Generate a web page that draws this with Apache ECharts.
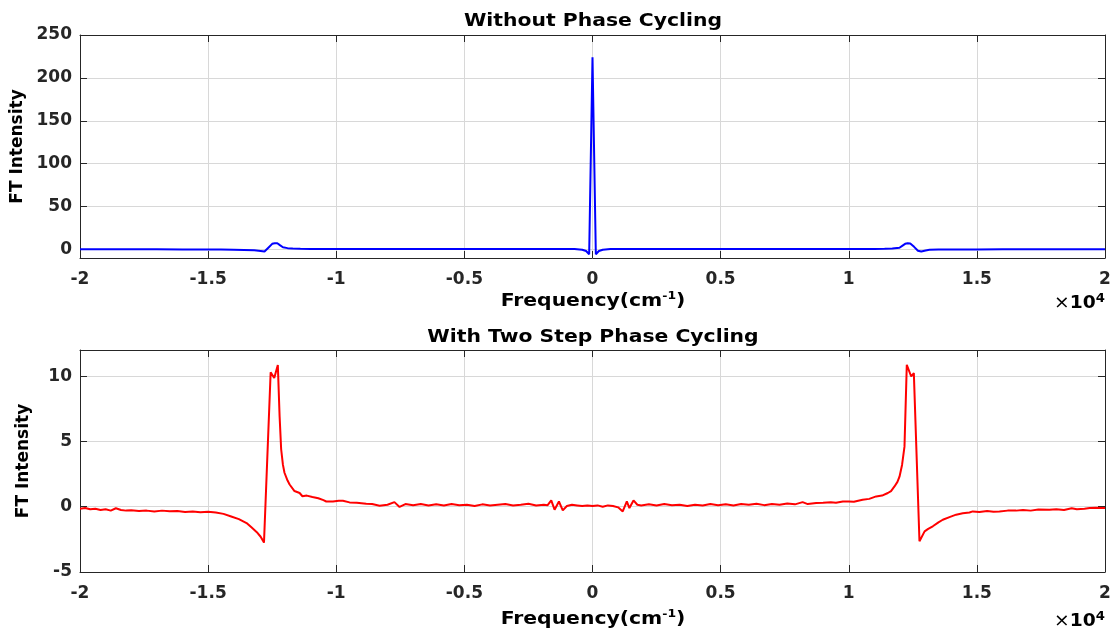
<!DOCTYPE html>
<html>
<head>
<meta charset="utf-8">
<script src="https://cdn.jsdelivr.net/npm/echarts@6/dist/echarts.min.js"></script>
<style>
html,body{margin:0;padding:0;background:#fff;}
#chart{width:1115px;height:635px;}
</style>
</head>
<body>
<div id="chart"></div>
<script>
// ---- data ----
const titles = ['Without Phase Cycling', 'With Two Step Phase Cycling'];
const xName = 'Frequency(cm{sup|-1})';
const yName = 'FT Intensity';
const xTickValues = [-20000, -15000, -10000, -5000, 0, 5000, 10000, 15000, 20000];
const xTickLabels = ['-2', '-1.5', '-1', '-0.5', '0', '0.5', '1', '1.5', '2'];
const yTickValuesTop = [0, 50, 100, 150, 200, 250];
const yTickLabelsTop = ['0', '50', '100', '150', '200', '250'];
const yTickValuesBottom = [-5, 0, 5, 10];
const yTickLabelsBottom = ['-5', '0', '5', '10'];

// Without phase cycling (blue) [frequency cm-1, intensity]
const noCycling = [
  [-20000,0.2],[-19000,0.2],[-18000,0.15],[-17000,0.1],[-16000,0.05],[-15000,0],
  [-14500,-0.1],[-14000,-0.3],[-13600,-0.6],[-13200,-1.1],[-12950,-1.8],[-12800,-2.5],
  [-12650,2],[-12500,6.5],[-12400,7.2],[-12300,7.2],[-12200,5],[-12080,2.5],
  [-11900,1.5],[-11700,1.0],[-11400,0.8],[-11000,0.6],[-10000,0.5],[-9000,0.45],
  [-8000,0.4],[-7000,0.35],[-6000,0.35],[-5000,0.35],[-4000,0.4],[-3000,0.4],
  [-2000,0.5],[-1500,0.5],[-1000,0.5],[-700,0.4],[-400,-0.3],[-250,-1.8],
  [-130,-5.6],[0,224],[130,-5.6],[250,-1.8],[400,-0.3],[700,0.4],
  [1000,0.5],[1500,0.5],[2000,0.5],[3000,0.4],[4000,0.4],[5000,0.35],
  [6000,0.35],[7000,0.35],[8000,0.4],[9000,0.45],[10000,0.5],[11000,0.6],
  [11400,0.8],[11700,1.1],[11980,2.0],[12100,4.5],[12200,6.5],[12300,7.2],
  [12400,7.0],[12550,3],[12700,-1.5],[12830,-2.5],[13000,-1.2],[13150,-0.5],
  [13500,-0.2],[14000,0],[15000,0.05],[16000,0.1],[17000,0.1],[18000,0.15],
  [19000,0.15],[20000,0.15]
];

// With two step phase cycling (red) [frequency cm-1, intensity]
const twoStep = [
  [-20000,-0.15],[-19800,-0.1],[-19600,-0.2],[-19400,-0.15],[-19200,-0.25],[-19000,-0.2],
  [-18800,-0.3],[-18600,-0.12],[-18400,-0.25],[-18200,-0.3],[-18000,-0.28],[-17700,-0.32],
  [-17400,-0.3],[-17100,-0.36],[-16800,-0.3],[-16500,-0.35],[-16200,-0.32],[-15900,-0.4],
  [-15600,-0.36],[-15300,-0.42],[-15000,-0.38],[-14700,-0.45],[-14400,-0.55],[-14100,-0.75],
  [-13800,-0.95],[-13500,-1.25],[-13300,-1.6],[-13100,-1.95],[-12950,-2.3],[-12820,-2.75],
  [-12560,10.3],[-12420,9.85],[-12280,10.85],[-12210,6.9],[-12150,4.4],[-12080,3.2],
  [-12020,2.6],[-11900,2.0],[-11820,1.7],[-11630,1.2],[-11430,1.05],[-11320,0.8],
  [-11150,0.85],[-10930,0.75],[-10700,0.65],[-10500,0.5],[-10390,0.4],[-10130,0.4],
  [-9900,0.45],[-9740,0.45],[-9480,0.33],[-9200,0.3],[-8830,0.23],[-8600,0.2],
  [-8310,0.08],[-8000,0.15],[-7730,0.35],[-7530,-0.02],[-7300,0.2],[-7000,0.12],
  [-6700,0.2],[-6400,0.1],[-6100,0.18],[-5800,0.1],[-5500,0.2],[-5200,0.12],
  [-4900,0.15],[-4600,0.05],[-4300,0.18],[-4000,0.1],[-3700,0.15],[-3400,0.2],
  [-3100,0.1],[-2800,0.15],[-2500,0.22],[-2200,0.1],[-1900,0.15],[-1750,0.12],
  [-1610,0.48],[-1480,-0.23],[-1310,0.4],[-1160,-0.28],[-1000,0.05],[-800,0.15],
  [-600,0.1],[-400,0.05],[-200,0.1],[0,0.05],[200,0.1],[400,0.0],
  [600,0.1],[800,0.05],[1000,-0.05],[1180,-0.36],[1340,0.4],[1440,-0.1],
  [1600,0.48],[1750,0.15],[1900,0.1],[2200,0.18],[2500,0.1],[2800,0.2],
  [3100,0.12],[3400,0.15],[3700,0.05],[4000,0.15],[4300,0.1],[4600,0.2],
  [4900,0.12],[5200,0.18],[5500,0.1],[5800,0.2],[6100,0.15],[6400,0.22],
  [6700,0.12],[7000,0.2],[7300,0.15],[7600,0.25],[7900,0.18],[8200,0.35],
  [8400,0.2],[8730,0.28],[9000,0.3],[9300,0.35],[9500,0.3],[9770,0.4],
  [10000,0.4],[10200,0.38],[10540,0.54],[10800,0.6],[11070,0.79],[11300,0.85],
  [11525,1.05],[11650,1.2],[11785,1.55],[11900,1.9],[11980,2.3],[12080,3.2],
  [12175,4.6],[12265,10.86],[12437,9.97],[12540,10.23],[12760,-2.65],[12960,-1.89],
  [13100,-1.7],[13280,-1.5],[13500,-1.2],[13670,-1.0],[13930,-0.8],[14190,-0.61],
  [14450,-0.5],[14710,-0.44],[14840,-0.36],[15100,-0.4],[15400,-0.33],[15650,-0.38],
  [15880,-0.36],[16200,-0.3],[16530,-0.3],[16800,-0.26],[17100,-0.3],[17400,-0.22],
  [17830,-0.23],[18100,-0.2],[18400,-0.25],[18700,-0.12],[18900,-0.2],[19200,-0.15],
  [19400,-0.1],[19650,-0.08],[20000,-0.1]
];

// ---- chart ----
const FONT = 'DejaVu Sans';
const AX = '#262626';
const GRIDC = '#d8d8d8';

function labelFrom(values, labels) {
  return function (v) {
    for (let i = 0; i < values.length; i++) {
      if (Math.abs(values[i] - v) < 1e-6) return labels[i];
    }
    return '';
  };
}

const grids = [
  { left: 80, right: 10, top: 35, height: 223 },
  { left: 80, right: 10, top: 350, height: 222 }
];

function xAxisMain(gi) {
  return {
    type: 'value', gridIndex: gi, min: -20000, max: 20000, interval: 5000,
    position: 'bottom',
    axisLine: { show: true, onZero: false, lineStyle: { color: AX, width: 1 } },
    axisTick: { show: true, inside: true, length: 7, lineStyle: { color: AX } },
    axisLabel: {
      margin: 13, fontFamily: FONT, fontSize: 17, fontWeight: 'bold', color: AX,
      formatter: labelFrom(xTickValues, xTickLabels)
    },
    splitLine: { show: true, lineStyle: { color: GRIDC, width: 1 } }
  };
}
function xAxisTop(gi) {
  return {
    type: 'value', gridIndex: gi, min: -20000, max: 20000, interval: 5000,
    position: 'top',
    axisLine: { show: true, onZero: false, lineStyle: { color: AX, width: 1 } },
    axisTick: { show: true, inside: true, length: 7, lineStyle: { color: AX } },
    axisLabel: { show: false },
    splitLine: { show: false }
  };
}
function yAxisMain(gi, min, max, interval, vals, labs) {
  const ax = {
    type: 'value', gridIndex: gi, min: min, max: max, splitNumber: 5,
    position: 'left',
    name: yName, nameLocation: 'middle', nameGap: 48,
    nameTextStyle: { fontFamily: FONT, fontSize: 17, fontWeight: 'bold', color: '#000' },
    axisLine: { show: true, onZero: false, lineStyle: { color: AX, width: 1 } },
    axisTick: { show: true, inside: true, length: 7, lineStyle: { color: AX } },
    axisLabel: {
      margin: 8, fontFamily: FONT, fontSize: 17, fontWeight: 'bold', color: AX,
      formatter: labelFrom(vals, labs)
    },
    splitLine: { show: true, lineStyle: { color: GRIDC, width: 1 } }
  };
  if (interval) ax.interval = interval;
  return ax;
}
function yAxisRight(gi, min, max, interval) {
  const ax = {
    type: 'value', gridIndex: gi, min: min, max: max, splitNumber: 5,
    position: 'right',
    axisLine: { show: true, onZero: false, lineStyle: { color: AX, width: 1 } },
    axisTick: { show: true, inside: true, length: 7, lineStyle: { color: AX } },
    axisLabel: { show: false },
    splitLine: { show: false }
  };
  if (interval) ax.interval = interval;
  return ax;
}

function sciText(y) {
  return { type: 'text', x: 1105, y: y, scaleX: 1.1, originX: 0, originY: 0, style: {
    text: '{x|×}{b|10}{s|4}', align: 'right', verticalAlign: 'middle',
    rich: {
      x: { fontFamily: FONT, fontSize: 17, color: AX },
      b: { fontFamily: FONT, fontSize: 17, fontWeight: 'bold', color: AX },
      s: { fontFamily: FONT, fontSize: 12, fontWeight: 'bold', color: AX, padding: [0, 0, 10, 0] }
    } } };
}
function centerText(txt, y, size, sx) {
  return { type: 'text', x: 593, y: y, scaleX: sx, originX: 0, originY: 0, style: {
    text: txt, align: 'center', verticalAlign: 'middle',
    fontFamily: FONT, fontSize: size, fontWeight: 'bold', fill: '#000',
    rich: { sup: { fontFamily: FONT, fontSize: 11, fontWeight: 'bold', fill: '#000', padding: [0, 0, 9, 0] } }
  } };
}

const chart = echarts.init(document.getElementById('chart'), null, { renderer: 'canvas' });

const option = {
  backgroundColor: '#fff',
  animation: false,
  grid: grids,
  xAxis: [xAxisMain(0), xAxisTop(0), xAxisMain(1), xAxisTop(1)],
  yAxis: [
    yAxisMain(0, -10, 250, null, yTickValuesTop, yTickLabelsTop),
    yAxisRight(0, -10, 250, null),
    yAxisMain(1, -5, 12, 5, yTickValuesBottom, yTickLabelsBottom),
    yAxisRight(1, -5, 12, 5)
  ],
  graphic: [
    centerText(titles[0], 21, 18, 1.13),
    centerText(titles[1], 337, 18, 1.13),
    centerText(xName, 301, 18, 1.13),
    centerText(xName, 619, 18, 1.13),
    sciText(304),
    sciText(622)
  ],
  series: [
    {
      type: 'line', xAxisIndex: 0, yAxisIndex: 0, data: noCycling,
      showSymbol: false, symbol: 'none', lineStyle: { color: '#0000ff', width: 2 }, z: 3
    },
    {
      type: 'line', xAxisIndex: 2, yAxisIndex: 2, data: twoStep,
      showSymbol: false, symbol: 'none', lineStyle: { color: '#ff0000', width: 2 }, z: 3
    }
  ]
};
chart.setOption(option);
</script>
</body>
</html>
